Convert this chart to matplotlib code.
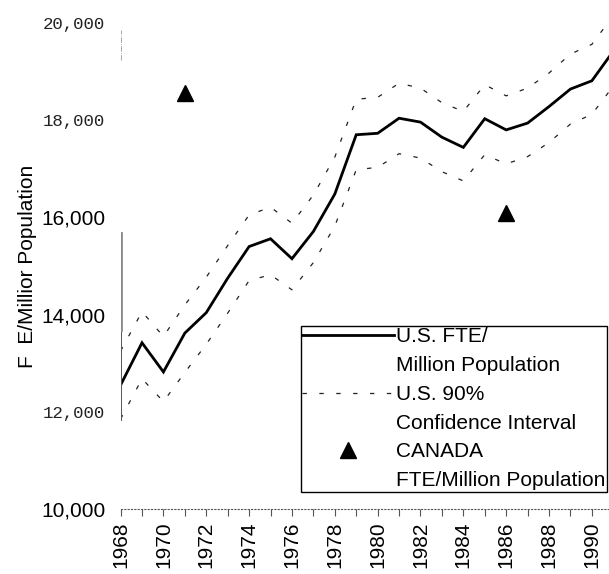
import matplotlib.pyplot as plt
from matplotlib.lines import Line2D

# values
years = list(range(1968, 1992))
us_fte = [12550, 13420, 12820, 13620, 14040, 14750, 15400, 15560, 15150, 15710, 16480, 17700,
          17730, 18040, 17960, 17650, 17440, 18030, 17800, 17940, 18280, 18640, 18810, 19420]
ci_upper = [13250, 14060, 13550, 14200, 14770, 15420, 16050, 16210, 15880, 16460, 17240, 18430,
            18470, 18760, 18660, 18360, 18180, 18730, 18500, 18660, 18970, 19360, 19560, 20150]
ci_lower = [11850, 12680, 12210, 12810, 13390, 14030, 14700, 14820, 14510, 15070, 15820, 16980,
            17030, 17310, 17220, 16940, 16750, 17290, 17100, 17250, 17540, 17920, 18120, 18700]
canada_years = [1971, 1986]
canada_fte = [18550, 16100]

ytick_vals = [10000, 12000, 14000, 16000, 18000, 20000]
ytick_labels = ['10,000', '12,000', '14,000', '16,000', '18,000', '20,000']
mono_labels = ['12,000', '18,000', '20,000']  # these print in a typewriter face on the scan

plt.rcParams['font.family'] = ['Liberation Sans', 'DejaVu Sans']

fig = plt.figure(figsize=(6.09, 5.74), dpi=100)
ax = fig.add_axes([0.198, 0.1132, 0.802, 0.8468])

dash = (0, (3.5, 10))
ax.plot(years, us_fte, color='black', lw=2.0, solid_joinstyle='miter')
ax.plot(years, ci_upper, color='#222222', lw=0.9, linestyle=dash)
ax.plot(years, ci_lower, color='#222222', lw=0.9, linestyle=dash)
ax.plot(canada_years, canada_fte, linestyle='none', marker='^', ms=11, color='black')

ax.set_xlim(1968, 1990.8)
ax.set_ylim(10000, 20000)

for side in ['top', 'right', 'left']:
    ax.spines[side].set_visible(False)
ax.spines['bottom'].set_linestyle((0, (1, 2)))
ax.spines['bottom'].set_color('#555555')
ax.spines['bottom'].set_linewidth(0.8)

# broken left axis as on the scan
ax.axvline(1968, ymin=0.924, ymax=0.986, color='#999999', lw=0.6, linestyle='-.')
ax.axvline(1968, ymin=0.368, ymax=0.568, color='#8a8a8a', lw=2.0)
ax.axvline(1968, ymin=0.183, ymax=0.365, color='#555555', lw=0.7)

ax.set_xticks(range(1968, 1991, 2))
ax.set_xticks(range(1969, 1991, 2), minor=True)
ax.set_xticklabels([str(y) for y in range(1968, 1991, 2)], rotation=90, fontsize=15)
ax.tick_params(axis='x', which='both', direction='out', length=5, width=0.8, color='#555555', pad=4)

ax.set_yticks(ytick_vals)
ax.set_yticklabels(ytick_labels)
ax.tick_params(axis='y', length=0, pad=11)
for lbl in ax.get_yticklabels():
    if lbl.get_text() in mono_labels:
        lbl.set_fontfamily('Liberation Mono')
        lbl.set_fontsize(12.5)
        lbl.set_color('#222222')
    else:
        lbl.set_fontsize(15)

ax.set_ylabel('F  E/Millior Population', fontsize=15, labelpad=3)

blank = Line2D([], [], linestyle='none')
handles = [Line2D([], [], color='black', lw=2.0), blank,
           Line2D([], [], color='#222222', lw=0.9, linestyle=(0, (3.5, 10))), blank,
           Line2D([], [], linestyle='none', marker='^', ms=11, color='black'), blank]
labels = ['U.S. FTE/', 'Million Population', 'U.S. 90%', 'Confidence Interval',
          'CANADA', 'FTE/Million Population']
leg = ax.legend(handles, labels, loc='lower right', bbox_to_anchor=(0.997, 0.143),
                bbox_transform=fig.transFigure, borderaxespad=0, fontsize=15,
                handlelength=4.4, handletextpad=0.1, labelspacing=0.47, borderpad=0.08,
                fancybox=False, framealpha=1, edgecolor='black')
leg.get_frame().set_linewidth(1.0)

plt.savefig('out.png', dpi=100)
